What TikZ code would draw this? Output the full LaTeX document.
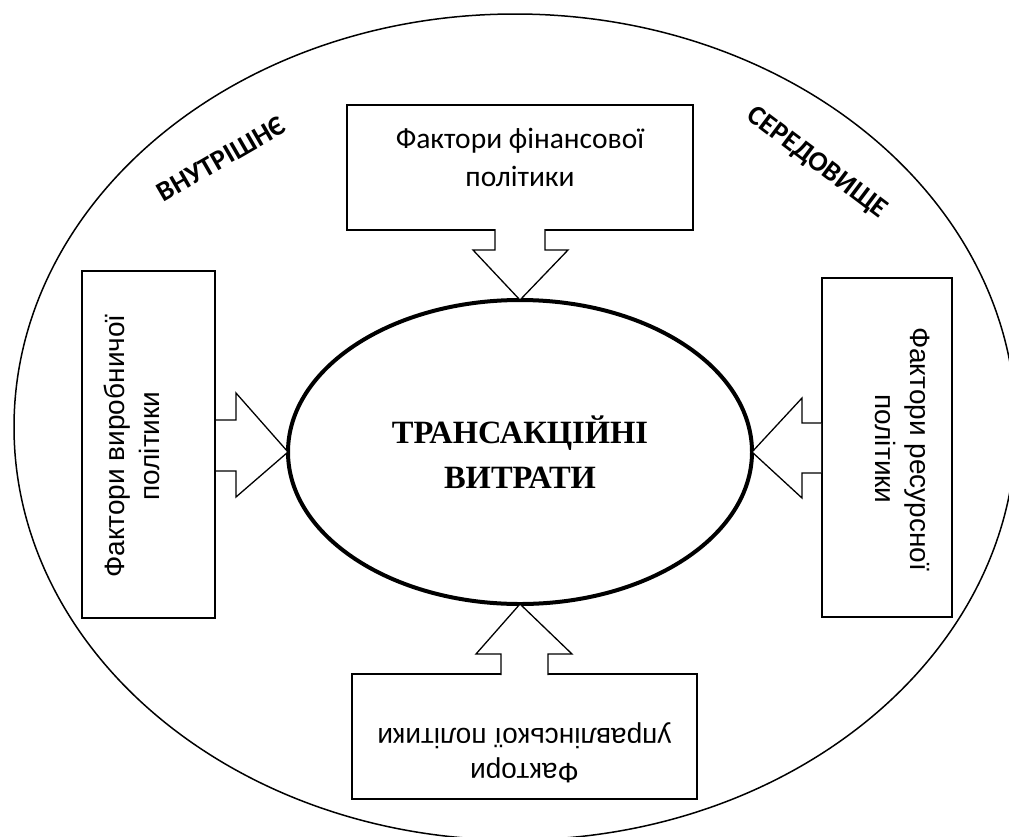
\documentclass[tikz,border=0pt]{standalone}
\usepackage{fontspec}
\newfontfamily\calfont{Carlito}
\newfontfamily\arifont{Liberation Sans}
\newfontfamily\tnrfont{Liberation Serif}
\usetikzlibrary{shapes.geometric,calc}
\begin{document}
\begin{tikzpicture}[x=1pt,y=-1pt,
  boxnode/.style={draw,line width=1.3pt,inner sep=0pt,outer sep=0pt,fill=white},
  ftext/.style={align=center,inner sep=0pt,font=\arifont\fontsize{28}{35}\selectfont},
  ctext/.style={align=center,inner sep=0pt,font=\calfont\fontsize{29.5}{38}\selectfont},
  envtext/.style={inner sep=0pt,font=\calfont\bfseries\fontsize{28}{34}\selectfont},
  barrow/.style={draw,fill=white,line width=1.3pt,line join=miter}]
\useasboundingbox (0,0) rectangle (1009,836);
\begin{scope}
\clip (0,0) rectangle (1009,836);
\draw[line width=1.5pt] (515,427) ellipse [x radius=501, y radius=413];
\end{scope}

% labels of the environment
\node[envtext,rotate=30] (inner) at (221,159) {ВНУТРІШНЄ};
\node[envtext,rotate=-37] (env) at (817,163) {СЕРЕДОВИЩЕ};

% central ellipse
\node[draw,ellipse,line width=4pt,inner sep=0pt,outer sep=0pt,
      minimum width=464,minimum height=304,align=center,
      font=\tnrfont\bfseries\fontsize{32.5}{45}\selectfont] (tc) at (520,452)
      {ТРАНСАКЦІЙНІ\\ВИТРАТИ};

% boxes
\node[boxnode,minimum width=346,minimum height=125] (fin) at (520,167.5) {};
\node[boxnode,minimum width=133,minimum height=347] (prod) at (148.5,444.5) {};
\node[boxnode,minimum width=130,minimum height=339] (res) at (887,447.5) {};
\node[boxnode,minimum width=345,minimum height=125] (man) at (524.5,736.5) {};

\node[ctext] (fint) at (520,157) {Фактори фінансової\\політики};
\node[ftext,rotate=90] (prodt) at (132,446) {Фактори виробничої\\політики};
\node[ftext,rotate=-90] (rest) at (903,449) {Фактори ресурсної\\політики};
\node[ftext,rotate=180] (mant) at (524.5,753) {Фактори\\управлінської політики};

% block arrows
\draw[barrow] ($(fin.south)+(-25,-1)$) -- ($(fin.south)+(-25,20)$) -- ($(fin.south)+(-47,20)$)
  -- (tc.north) -- ($(fin.south)+(48,20)$) -- ($(fin.south)+(25,20)$) -- ($(fin.south)+(25,-1)$);
\draw[barrow] ($(prod.east)+(1,-24.5)$) -- ($(prod.east)+(21,-24.5)$) -- ($(prod.east)+(21,-51.5)$)
  -- (tc.west) -- ($(prod.east)+(21,52.5)$) -- ($(prod.east)+(21,26.5)$) -- ($(prod.east)+(1,26.5)$);
\draw[barrow] ($(res.west)+(-1,-24.5)$) -- ($(res.west)+(-20,-24.5)$) -- ($(res.west)+(-20,-49.5)$)
  -- (tc.east) -- ($(res.west)+(-20,50.5)$) -- ($(res.west)+(-20,25.5)$) -- ($(res.west)+(-1,25.5)$);
\draw[barrow] ($(man.north)+(-23.5,1)$) -- ($(man.north)+(-23.5,-20)$) -- ($(man.north)+(-48.5,-20)$)
  -- (tc.south) -- ($(man.north)+(47.5,-20)$) -- ($(man.north)+(23.5,-20)$) -- ($(man.north)+(23.5,1)$);
\end{tikzpicture}
\end{document}
